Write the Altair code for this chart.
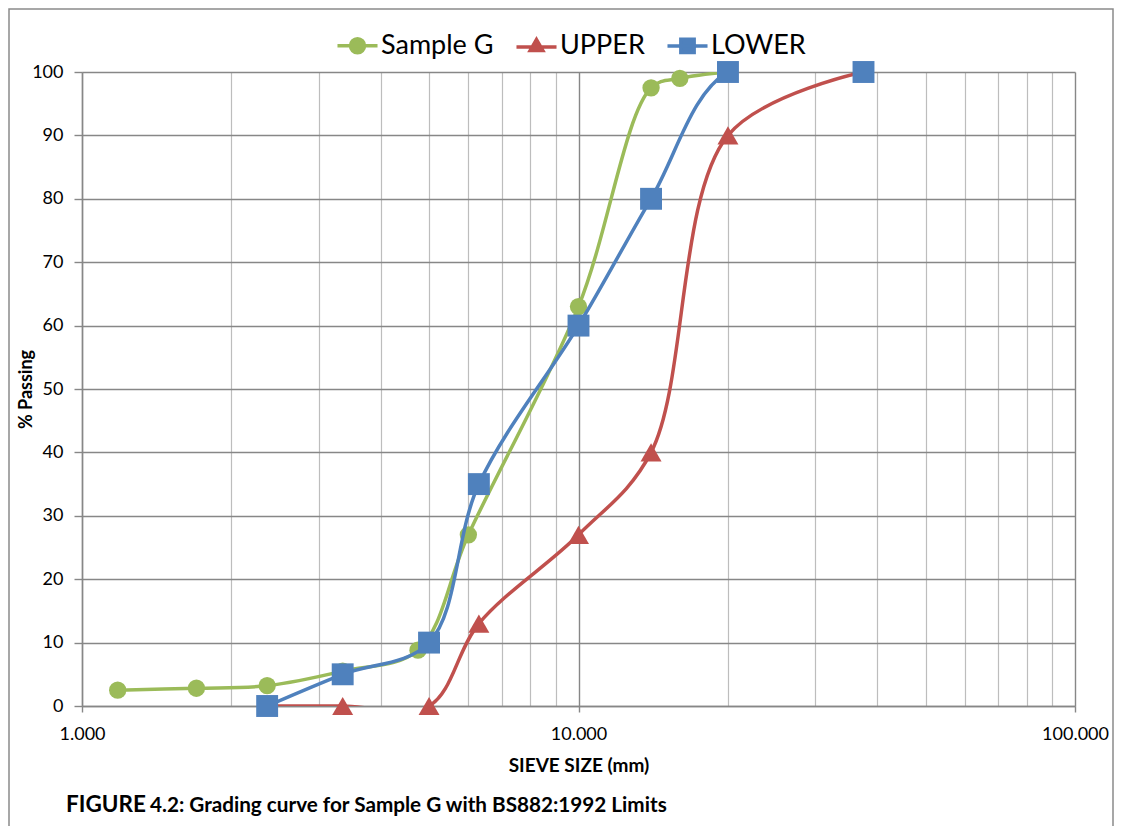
import altair as alt
import pandas as pd

# ---- data ----
series_names = ["Sample G", "UPPER", "LOWER"]
series_colors = ["#9BBB59", "#C0504D", "#4F81BD"]

sample_sizes = [1.18, 1.7, 2.36, 3.35, 4.75, 6.0, 10, 14, 16, 20]
sample_passing = [2.5, 2.8, 3.2, 5.5, 8.8, 27, 63, 97.5, 99, 100]

limit_sizes = [2.36, 3.35, 5, 6.3, 10, 14, 20, 37.5]
upper_passing = [0, 0, 0, 13, 27, 40, 90, 100]
lower_passing = [0, 5, 10, 35, 60, 80, 100, 100]

x_tick_values = [1, 2, 3, 4, 5, 6, 7, 8, 9, 10, 20, 30, 40, 50, 60, 70, 80, 90, 100]
y_tick_values = [0, 10, 20, 30, 40, 50, 60, 70, 80, 90, 100]

caption_bold = "FIGURE"
caption_rest = "4.2: Grading curve for Sample G with BS882:1992 Limits"

rows = []
for name, xs, ys in [
    ("Sample G", sample_sizes, sample_passing),
    ("UPPER", limit_sizes, upper_passing),
    ("LOWER", limit_sizes, lower_passing),
]:
    for i, (xv, yv) in enumerate(zip(xs, ys)):
        rows.append({"series": name, "size": xv, "passing": yv, "order": i})
df = pd.DataFrame(rows)

FONT = "Lato"
GRID_DARK = "#878787"
GRID_LIGHT = "#bdbdbd"
major = "datum.value == 1 || datum.value == 10 || datum.value == 100"

xscale = alt.Scale(type="log", domain=[1, 100], nice=False)
yscale = alt.Scale(domain=[0, 100], nice=False)

x_enc = alt.X(
    "size:Q",
    scale=xscale,
    axis=alt.Axis(
        values=x_tick_values,
        labelExpr=f"({major}) ? format(datum.value, '.3f') : ''",
        labelOverlap=False,
        labelFlush=False,
        grid=True,
        gridColor={"condition": {"test": major, "value": GRID_DARK}, "value": GRID_LIGHT},
        gridWidth={"condition": {"test": major, "value": 1.4}, "value": 1.2},
        tickColor={"condition": {"test": major, "value": GRID_DARK}, "value": "transparent"},
        tickSize=6,
        tickWidth=1.4,
        domainColor=GRID_DARK,
        domainWidth=1.4,
        labelFontSize=18,
        labelColor="#000000",
        labelPadding=13,
        title="SIEVE SIZE (mm)",
        titleFontSize=19,
        titleFontWeight="bold",
        titleColor="#000000",
        titlePadding=13,
    ),
)
y_enc = alt.Y(
    "passing:Q",
    scale=yscale,
    axis=alt.Axis(
        values=y_tick_values,
        grid=True,
        gridColor=GRID_DARK,
        gridWidth=1.4,
        tickColor=GRID_DARK,
        tickSize=8,
        tickWidth=1.4,
        domainColor=GRID_DARK,
        domainWidth=1.4,
        labelFontSize=18,
        labelColor="#000000",
        labelPadding=11,
        title="%  Passing",
        titleFontSize=18,
        titleFontWeight="bold",
        titleColor="#000000",
        titleAngle=270,
        titleX=-56,
        titleY=317,
        titleAlign="center",
        titleBaseline="middle",
    ),
)

base = alt.Chart(df)

marker_shapes = ["circle", "triangle-up", "square"]
marker_sizes = [300, 440, 480]

layers = []
# outer frame of the figure
frame = alt.Chart(alt.Data(values=[{}])).mark_rect(
    fillOpacity=0, stroke="#8a8a8a", strokeWidth=1.5
).encode(x=alt.value(-73), x2=alt.value(1031), y=alt.value(-63), y2=alt.value(800))
layers.append(frame)

for name, color, shp, sz in zip(series_names, series_colors, marker_shapes, marker_sizes):
    sub = base.transform_filter(alt.datum.series == name)
    line = sub.mark_line(
        color=color, strokeWidth=3.5, interpolate="catmull-rom", clip=True
    ).encode(x=x_enc, y=y_enc, order="order:Q")
    pts = sub.mark_point(
        shape=shp, filled=True, size=sz, color=color, opacity=1, strokeWidth=0
    ).encode(x=x_enc, y=y_enc)
    layers += [line, pts]

legend_paths = [
    "M-2.86,0H2.86M-1,0A1,1,0,1,1,1,0A1,1,0,1,1,-1,0Z",
    "M-2.86,0.1H2.86M0,-0.95L0.9,0.6L-0.9,0.6Z",
    "M-2.86,0H2.86M-0.95,-0.95H0.95V0.95H-0.95Z",
]
leg = alt.Legend(
    orient="none",
    legendX=262,
    legendY=-40,
    direction="horizontal",
    title=None,
    labelFontSize=27,
    labelFont=FONT,
    labelColor="#000000",
    symbolSize=196,
    symbolStrokeWidth=3.5,
    symbolOpacity=1,
    labelOffset=10,
    columnPadding=15,
    padding=0,
)
legend_layer = base.transform_filter("false").mark_point(
    filled=True, opacity=1, strokeWidth=3.5
).encode(
    x=x_enc,
    y=y_enc,
    fill=alt.Fill("series:N", scale=alt.Scale(domain=series_names, range=series_colors), legend=leg),
    stroke=alt.Stroke("series:N", scale=alt.Scale(domain=series_names, range=series_colors), legend=leg),
    shape=alt.Shape("series:N", scale=alt.Scale(domain=series_names, range=legend_paths), legend=leg),
)
layers.append(legend_layer)

one = alt.Data(values=[{}])
cap1 = alt.Chart(one).mark_text(
    text=caption_bold, fontSize=22.5, fontWeight="bold", align="left",
    baseline="alphabetic", color="#000000", font=FONT
).encode(x=alt.value(-16), y=alt.value(740))
cap2 = alt.Chart(one).mark_text(
    text=caption_rest, fontSize=20.7, fontWeight="bold", align="left",
    baseline="alphabetic", color="#000000", font=FONT
).encode(x=alt.value(68), y=alt.value(740))
layers += [cap1, cap2]

chart = alt.layer(*layers).properties(
    width=993,
    height=634,
    autosize="none",
    padding={"left": 74, "top": 64, "right": 40, "bottom": 120},
    background="#ffffff",
).configure(font=FONT).configure_view(strokeWidth=0)

chart.save("out.html", embed_options={"renderer": "svg", "actions": False})
